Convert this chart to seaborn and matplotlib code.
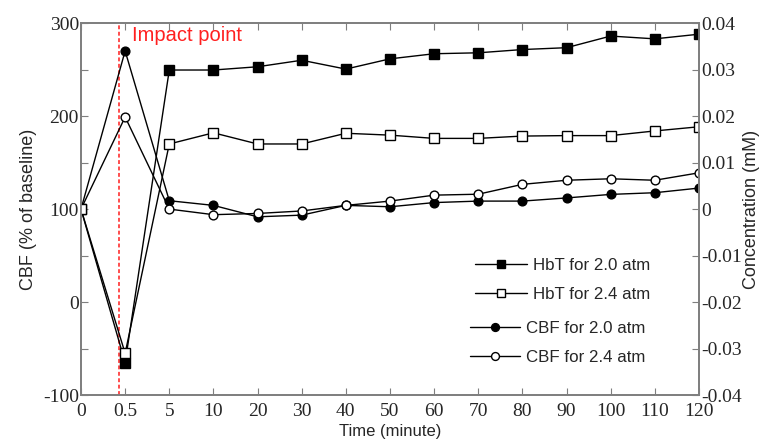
import numpy as np
import matplotlib.pyplot as plt
import seaborn as sns

# time points (categorical, evenly spaced on the axis)
time_labels = ['0', '0.5', '5', '10', '20', '30', '40', '50', '60', '70', '80', '90', '100', '110', '120']

# HbT concentration (mM), right axis
hbt_20 = [0, -0.033, 0.0299, 0.0299, 0.0306, 0.032, 0.0301, 0.0323, 0.0334, 0.0336, 0.0343, 0.0347, 0.0372, 0.0366, 0.0376]
hbt_24 = [0, -0.031, 0.014, 0.0164, 0.014, 0.014, 0.0163, 0.0159, 0.0152, 0.0152, 0.0157, 0.0158, 0.0158, 0.0168, 0.0177]

# CBF (% of baseline), left axis
cbf_20 = [100, 270, 109, 104, 91.7, 93.5, 104, 102.5, 107, 108.6, 108.6, 112, 115.8, 117.6, 122.6]
cbf_24 = [100, 199, 100, 94, 95.3, 98, 104, 108.6, 115, 116, 126.6, 131, 132.6, 131, 139]

sns.set_style('ticks')
plt.rcParams['axes.unicode_minus'] = False

serif = 'Liberation Serif'
sans = 'Liberation Sans'
gray = '#7f7f7f'

fig = plt.figure(figsize=(7.67, 4.43), dpi=100)
ax = fig.add_axes([0.1056, 0.108, 0.8057, 0.840])
ax2 = ax.twinx()

x = np.arange(len(time_labels))

sns.lineplot(x=x, y=cbf_20, ax=ax, color='black', lw=1, marker='o', markersize=6.3,
             mfc='black', mec='black', mew=1, label='CBF for 2.0 atm', legend=False)
sns.lineplot(x=x, y=cbf_24, ax=ax, color='black', lw=1, marker='o', markersize=6.3,
             mfc='white', mec='black', mew=1, label='CBF for 2.4 atm', legend=False)
sns.lineplot(x=x, y=hbt_20, ax=ax2, color='black', lw=1, marker='s', markersize=7,
             mfc='black', mec='black', mew=1, label='HbT for 2.0 atm', legend=False)
sns.lineplot(x=x, y=hbt_24, ax=ax2, color='black', lw=1, marker='s', markersize=7,
             mfc='white', mec='black', mew=1, label='HbT for 2.4 atm', legend=False)

ax.set_xlim(0, len(time_labels) - 1)
ax.set_ylim(-100, 300)
ax2.set_ylim(-0.04, 0.04)

ax.set_xticks(x)
ax.set_xticklabels(time_labels, fontfamily=serif, fontsize=14)
ax.set_yticks(np.arange(-100, 301, 50))
ax.set_yticklabels(['-100', '', '0', '', '100', '', '200', '', '300'], fontfamily=serif, fontsize=14)
r_ticks = np.round(np.arange(-0.04, 0.0401, 0.01), 2)
ax2.set_yticks(r_ticks)
ax2.set_yticklabels(['0' if t == 0 else f'{t:g}' for t in r_ticks], fontfamily=serif, fontsize=14)

ax.tick_params(axis='x', direction='in', top=True, length=5, color=gray, pad=5.5)
ax.tick_params(axis='y', direction='in', length=5, color=gray, pad=1.5)
ax2.tick_params(axis='y', direction='in', length=5, color=gray, pad=1.5)

for a in (ax, ax2):
    for s in a.spines.values():
        s.set_color(gray)
        s.set_linewidth(1.3)

ax.set_xlabel('Time (minute)', fontfamily=sans, fontsize=12, labelpad=3)
ax.set_ylabel('CBF (% of baseline)', fontfamily=sans, fontsize=13, labelpad=4)
ax2.set_ylabel('Concentration (mM)', fontfamily=sans, fontsize=13, labelpad=1)

# impact marker
ax.axvline(0.86, color='#ff4d4d', lw=1.4, ls=(0, (2, 1.3)), zorder=1)
ax.text(1.15, 287, 'Impact point', color='#ff2020', fontfamily=sans, fontsize=14.5, va='center')

ax2.legend(loc='upper left', bbox_to_anchor=(0.6375, 0.368), frameon=False,
           prop={'family': sans, 'size': 12.2}, handlelength=3.05, handletextpad=0.35,
           labelspacing=0.8, borderpad=0, borderaxespad=0, markerscale=0.8)
ax.legend(loc='upper left', bbox_to_anchor=(0.629, 0.199), frameon=False,
          prop={'family': sans, 'size': 12.2}, handlelength=2.95, handletextpad=0.4,
          labelspacing=0.8, borderpad=0, borderaxespad=0, markerscale=0.9)

fig.savefig('out.png', dpi=100)
